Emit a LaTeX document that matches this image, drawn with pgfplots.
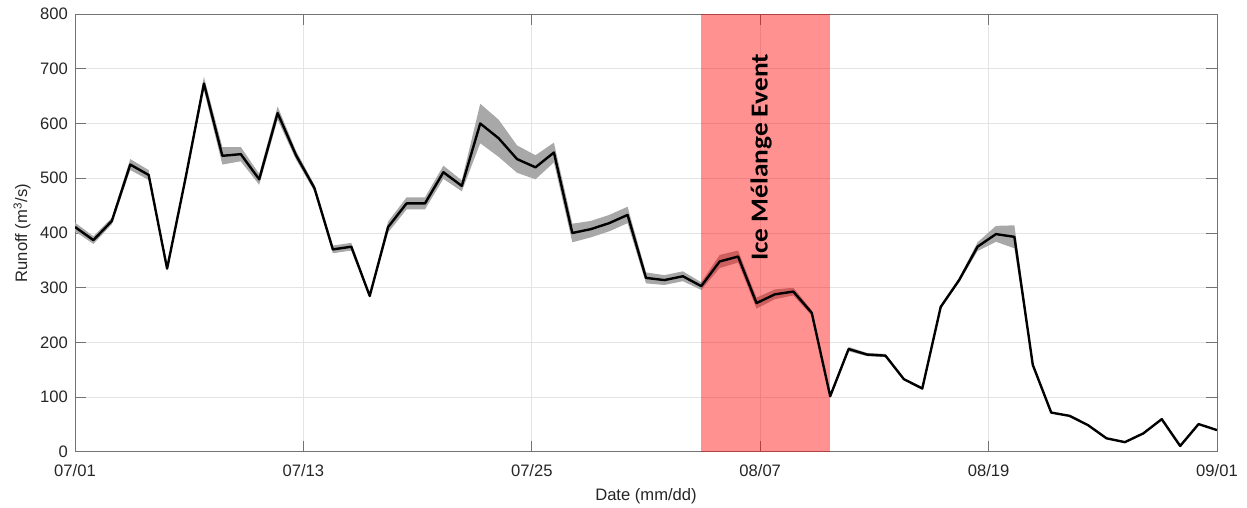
\documentclass[border=0pt]{standalone}
\usepackage{pgfplots}
\pgfplotsset{compat=1.18}
\usepgfplotslibrary{fillbetween}
\usepackage{pgfplotstable}
\usepackage{fontspec}
\setmainfont{Liberation Sans}
\newfontfamily\calibri{Carlito}

\pgfplotstableread{
d v lo hi
0 411 403 419
1 387 380 394
2 422 416 428
3 525 515 535
4 506 497 515
5 335 332 338
6 500 496 504
7 673 661 685
8 541 525 557
9 544 531 557
10 498 488 508
11 619 607 631
12 542 534 550
13 482 476 488
14 370 363 377
15 375 368 382
16 285 282 288
17 411 401 421
18 454 443 465
19 454 443 465
20 511 499 523
21 486 476 496
22 600 564 636
23 573 539 607
24 535 510 560
25 520 498 542
26 547 529 565
27 400 383 417
28 407 392 422
29 418 403 433
30 433 418 448
31 318 308 328
32 314 305 323
33 321 312 330
34 303 296 310
35 348 336 360
36 357 346 368
37 272 262 282
38 288 279 297
39 293 286 300
40 254 249 259
41 102 99 105
42 188 184 192
43 178 175 181
44 176 173 179
45 133 131 135
46 116 114 118
47 265 262 268
48 314 310 318
49 375 367 383
50 398 384 413
51 393 372 414
52 159 157 161
53 72 71 73
54 66 65 67
55 49 48 50
56 25 24 26
57 18 17 19
58 34 33 35
59 60 59 61
60 11 10 12
61 51 50 52
62 40 39 41
}\runoff

\definecolor{txt}{gray}{0.15}
\definecolor{gridc}{RGB}{228,228,228}
\definecolor{bandc}{RGB}{168,168,168}
\definecolor{axc}{gray}{0.45}

\begin{document}
\begin{tikzpicture}
\begin{axis}[
  scale only axis, width=571pt, height=219pt,
  xmin=0, xmax=62, ymin=0, ymax=800,
  xtick={0,12.4,24.8,37.2,49.6,62},
  xticklabels={07/01,07/13,07/25,08/07,08/19,09/01},
  ytick={0,100,...,800},
  grid=major, major grid style={draw=gridc, line width=0.5pt},
  axis line style={draw=axc, line width=0.5pt},
  tick style={draw=axc, line width=0.5pt},
  major tick length=5.5pt,
  tick align=inside,
  /pgf/number format/assume math mode=true,
  ticklabel style={font=\fontsize{8.3}{10}\selectfont, text=txt},
  xticklabel style={yshift=-2.5pt},
  label style={font=\fontsize{8.3}{10}\selectfont, text=txt},
  xlabel={Date (mm/dd)}, ylabel={Runoff (m\textsuperscript{3}/s)},
  x label style={at={(axis description cs:0.5,-0.1)}, anchor=center},
  y label style={at={(axis description cs:-0.0464,0.5)}, anchor=center},
]
\coordinate (bl) at (rel axis cs:0,0);
\coordinate (tr) at (rel axis cs:1,1);
\addplot[name path=up, draw=none, forget plot] table[x=d, y=hi] {\runoff};
\addplot[name path=dn, draw=none, forget plot] table[x=d, y=lo] {\runoff};
\addplot[fill=bandc, draw=none] fill between[of=up and dn];
\addplot[draw=none, fill={rgb,255:red,255;green,0;blue,0}, fill opacity=0.43] coordinates {(34,800) (41,800)} \closedcycle;
\addplot[black, line width=1.2pt, line join=round] table[x=d, y=v] {\runoff};
\node[rotate=90, font=\calibri\bfseries\fontsize{12.2}{14}\selectfont, black] at (axis cs:37.25,538) {\scalebox{1.12}[1]{Ice Mélange Event}};
\end{axis}
\pgfresetboundingbox
\path[use as bounding box] ([shift={(-37.5pt,-28pt)}]bl) rectangle ([shift={(15pt,7pt)}]tr);
\end{tikzpicture}
\end{document}
